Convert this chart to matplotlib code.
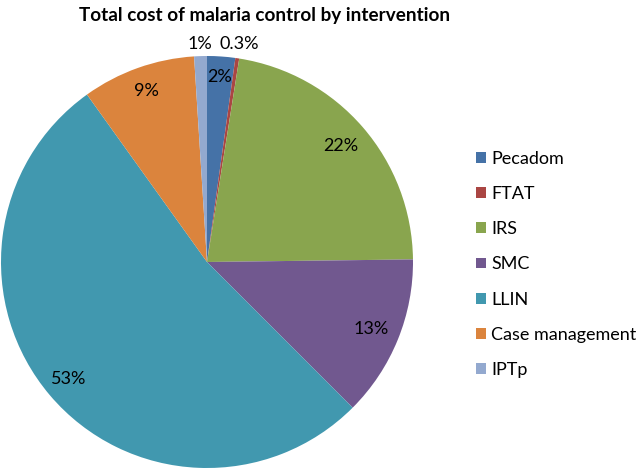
import numpy as np
import matplotlib
matplotlib.use('Agg')
import matplotlib.pyplot as plt

plt.rcParams['font.family'] = ['Lato', 'DejaVu Sans']

# data
labels = ['Pecadom', 'FTAT', 'IRS', 'SMC', 'LLIN', 'Case management', 'IPTp']
values = [2.2, 0.3, 22.3, 12.7, 52.6, 8.9, 1.0]
pct_text = ['2%', '0.3%', '22%', '13%', '53%', '9%', '1%']
colors = ['#4572A7', '#AA4643', '#89A54E', '#71588F', '#4198AF', '#DB843D', '#93A9CF']
label_dist = [0.90, 1.07, 0.86, 0.86, 0.88, 0.88, 1.06]

fig = plt.figure(figsize=(6.38, 4.69), dpi=100)
ax = fig.add_axes([0, 0, 1, 1])

cx, cy, r = 207, 469 - 262, 206
wedges, _ = ax.pie(values, colors=colors, startangle=90, counterclock=False,
                   center=(cx, cy), radius=r, frame=False,
                   wedgeprops=dict(linewidth=0))
ax.set_xlim(0, 638)
ax.set_ylim(0, 469)
ax.set_aspect('equal')
ax.axis('off')

for w, txt, d in zip(wedges, pct_text, label_dist):
    ang = np.deg2rad((w.theta1 + w.theta2) / 2)
    ax.text(cx + d * r * np.cos(ang), cy + d * r * np.sin(ang), txt,
            ha='center', va='center', fontsize=13, color='black')

fig.text(265 / 638, 1 - 15 / 469, 'Total cost of malaria control by intervention',
         ha='center', va='center', fontsize=13.6, fontweight='bold')

ax.legend(wedges, labels, loc='upper left', bbox_to_anchor=(476 / 638, 1 - 151 / 469),
          bbox_transform=fig.transFigure, frameon=False, fontsize=13,
          handlelength=0.55, handleheight=0.55, handletextpad=0.3,
          labelspacing=1.06, borderpad=0, borderaxespad=0)

fig.savefig('out.png', dpi=100)
